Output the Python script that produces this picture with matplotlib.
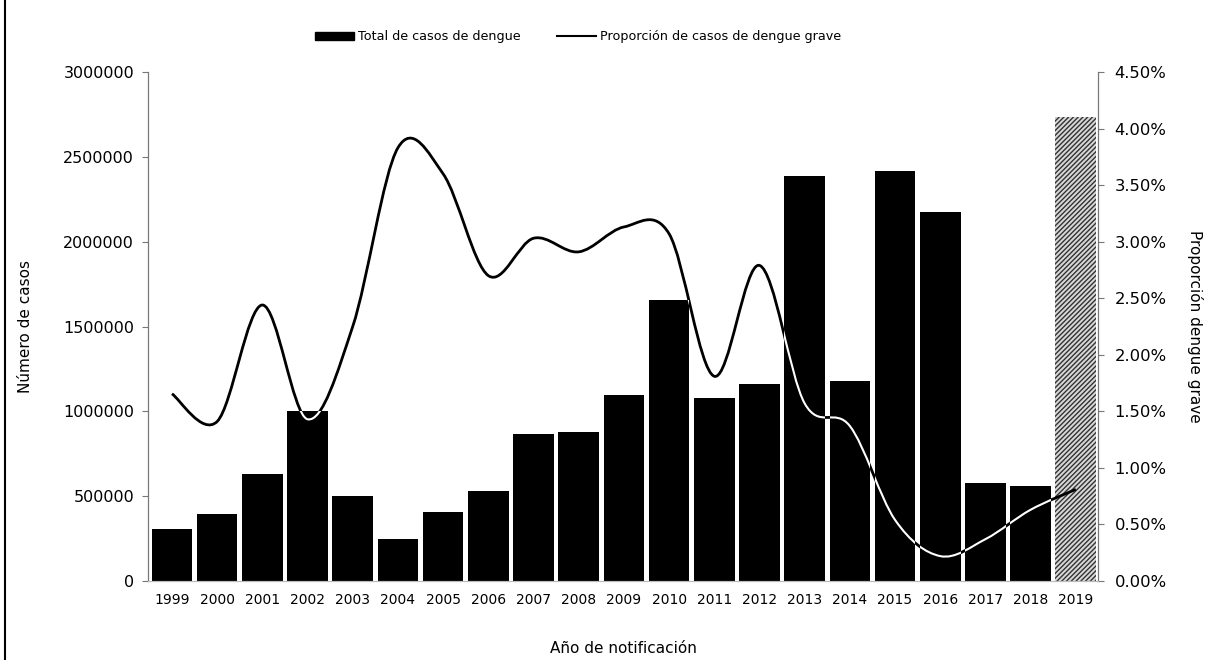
import matplotlib
matplotlib.use("Agg")
from matplotlib import pyplot as plt
from matplotlib.path import Path
from matplotlib.patches import PathPatch, Rectangle
from matplotlib.lines import Line2D
from matplotlib.ticker import FuncFormatter, MultipleLocator

years = ["1999", "2000", "2001", "2002", "2003", "2004", "2005", "2006", "2007", "2008",
         "2009", "2010", "2011", "2012", "2013", "2014", "2015", "2016", "2017", "2018", "2019"]
total_cases = [305000, 392000, 630000, 1000000, 500000, 248000, 408000, 530000, 868000, 880000,
               1099000, 1656000, 1079000, 1160000, 2390000, 1181000, 2416000, 2175000, 579000, 559000,
               2733000]
severe_share = [1.655, 1.41, 2.44, 1.43, 2.25, 3.83, 3.60, 2.70, 3.03, 2.91,
                3.13, 3.07, 1.81, 2.79, 1.57, 1.37, 0.54, 0.22, 0.37, 0.63, 0.81]

plt.rcParams['font.family'] = ['DejaVu Sans']


def smooth_path(xs, ys, t=1 / 6):
    # cubic bezier through every point (catmull-rom style tangents)
    verts = [(xs[0], ys[0])]
    codes = [Path.MOVETO]
    n = len(xs)
    for i in range(n - 1):
        xa, ya = (xs[i - 1], ys[i - 1]) if i > 0 else (xs[i], ys[i])
        xb, yb = (xs[i + 2], ys[i + 2]) if i + 2 < n else (xs[i + 1], ys[i + 1])
        c1 = (xs[i] + (xs[i + 1] - xa) * t, ys[i] + (ys[i + 1] - ya) * t)
        c2 = (xs[i + 1] - (xb - xs[i]) * t, ys[i + 1] - (yb - ys[i]) * t)
        verts += [c1, c2, (xs[i + 1], ys[i + 1])]
        codes += [Path.CURVE4] * 3
    return Path(verts, codes)


fig = plt.figure(figsize=(12.17, 6.60), dpi=100)
ax = fig.add_axes([0.1216, 0.1197, 0.7806, 0.7712])
ax2 = ax.twinx()

x = list(range(len(years)))
bars = ax.bar(x[:-1], total_cases[:-1], width=0.9, color='black', zorder=2)
last = ax.bar(x[-1:], total_cases[-1:], width=0.9, facecolor='#d8d8d8', edgecolor='#333333',
              hatch='///////', linewidth=0, zorder=2)

ax.set_xlim(-0.53, 20.49)
ax.set_ylim(0, 3000000)
ax.yaxis.set_major_locator(MultipleLocator(500000))
ax.yaxis.set_major_formatter(FuncFormatter(lambda v, p: f"{int(v)}"))
ax.set_xticks(x)
ax.set_xticklabels(years, fontsize=10)
ax.tick_params(axis='x', length=0, pad=9)
ax.tick_params(axis='y', length=4, width=0.8, color='#777777', labelsize=11.5, pad=6)

ax2.set_ylim(0, 4.5)
ax2.yaxis.set_major_locator(MultipleLocator(0.5))
ax2.yaxis.set_major_formatter(FuncFormatter(lambda v, p: f"{v:.2f}%"))
ax2.tick_params(axis='y', length=4, width=0.8, color='#777777', labelsize=11.8, pad=8)

for a in (ax, ax2):
    a.spines['top'].set_visible(False)
    a.spines['left'].set_color('#777777')
    a.spines['right'].set_color('#777777')
    a.spines['bottom'].set_color('#bbbbbb')
    a.spines['left'].set_linewidth(0.8)
    a.spines['right'].set_linewidth(0.8)

# proportion line, white where it crosses the black bars
curve = smooth_path(x, severe_share)
ax2.add_patch(PathPatch(curve, fill=False, edgecolor='black', linewidth=2.0, zorder=3))
for b in bars:
    inner = PathPatch(curve, fill=False, edgecolor='white', linewidth=1.5, zorder=4,
                      transform=ax2.transData)
    ax2.add_patch(inner)
    inner.set_clip_path(b)

ax.set_ylabel("Número de casos", fontsize=11, labelpad=22)
ax2.set_ylabel("Proporción dengue grave", fontsize=11, rotation=270, labelpad=26)
ax.set_xlabel("Año de notificación", fontsize=11, labelpad=24)

handles = [Rectangle((0, 0), 1, 1, color='black'),
           Line2D([], [], color='black', linewidth=1.5)]
fig.legend(handles, ["Total de casos de dengue", "Proporción de casos de dengue grave"],
           loc='center', bbox_to_anchor=(0.475, 0.944), ncol=2, frameon=False, fontsize=9.2,
           handlelength=3.1, handleheight=0.6, handletextpad=0.3, columnspacing=2.8)

# page border on the left
fig.add_artist(Line2D([0.004, 0.004], [0, 1], color='black', linewidth=1.5,
                      transform=fig.transFigure))

fig.savefig("out.png", dpi=100)
